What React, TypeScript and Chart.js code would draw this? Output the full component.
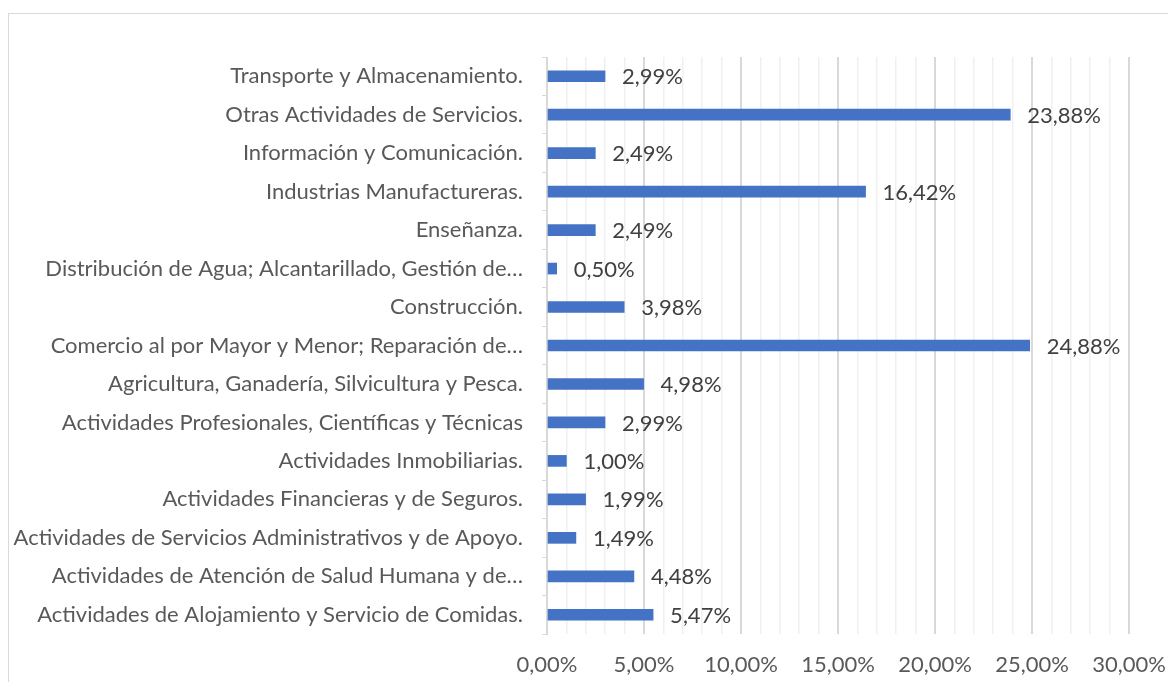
import React, { useEffect, useRef } from "react";
import { Chart, registerables } from "chart.js";

Chart.register(...registerables);

const categories: string[] = [
  "Transporte y Almacenamiento.",
  "Otras Actividades de Servicios.",
  "Información y Comunicación.",
  "Industrias Manufactureras.",
  "Enseñanza.",
  "Distribución de Agua; Alcantarillado, Gestión de…",
  "Construcción.",
  "Comercio al por Mayor y Menor; Reparación de…",
  "Agricultura, Ganadería, Silvicultura y Pesca.",
  "Actividades Profesionales, Científicas y Técnicas",
  "Actividades Inmobiliarias.",
  "Actividades Financieras y de Seguros.",
  "Actividades de Servicios Administrativos y de Apoyo.",
  "Actividades de Atención de Salud Humana y de…",
  "Actividades de Alojamiento y Servicio de Comidas.",
];

const values: number[] = [
  2.99, 23.88, 2.49, 16.42, 2.49, 0.5, 3.98, 24.88, 4.98, 2.99, 1.0, 1.99, 1.49, 4.48, 5.47,
];

const xMin = 0;
const xMax = 30;
const majorStep = 5;

const FONT = "Lato, 'Open Sans', sans-serif";
const FONT_SIZE = 22;
const fmt = (v: number) => v.toFixed(2).replace(".", ",") + "%";

export default function App() {
  const ref = useRef<HTMLCanvasElement | null>(null);

  useEffect(() => {
    if (!ref.current) return;
    const bgPlugin = {
      id: "bgBorder",
      beforeDraw(chart: any) {
        const c = chart.ctx;
        c.save();
        c.fillStyle = "#ffffff";
        c.fillRect(0, 0, chart.width, chart.height);
        c.strokeStyle = "#d9d9d9";
        c.lineWidth = 1;
        c.strokeRect(8.5, 13.5, 1300, 800);
        c.restore();
      },
    };
    const labelPlugin = {
      id: "valueLabels",
      afterDatasetsDraw(chart: any) {
        const c = chart.ctx;
        const meta = chart.getDatasetMeta(0);
        c.save();
        c.font = `${FONT_SIZE}px ${FONT}`;
        c.fillStyle = "#404040";
        c.textAlign = "left";
        c.textBaseline = "middle";
        meta.data.forEach((bar: any, i: number) => {
          c.fillText(fmt(values[i]), bar.x + 17, bar.y + 1);
        });
        c.restore();
      },
    };

    const chart = new Chart(ref.current, {
      type: "bar",
      data: {
        labels: categories,
        datasets: [
          {
            data: values,
            backgroundColor: "#4472c4",
            borderWidth: 0,
            barThickness: 11,
          },
        ],
      },
      options: {
        indexAxis: "y",
        animation: false,
        responsive: false,
        maintainAspectRatio: false,
        layout: { padding: { top: 57, right: 39, left: 0, bottom: 0 } },
        plugins: { legend: { display: false }, tooltip: { enabled: false } },
        scales: {
          x: {
            min: xMin,
            max: xMax,
            ticks: {
              stepSize: 1,
              autoSkip: false,
              maxRotation: 0,
              padding: 18,
              color: "#595959",
              font: { family: FONT, size: FONT_SIZE },
              callback: (v: any) => (Number(v) % majorStep === 0 ? fmt(Number(v)) : ""),
            },
            grid: {
              drawTicks: false,
              color: (ctx: any) =>
                ctx.tick && ctx.tick.value % majorStep === 0 ? "#d9d9d9" : "#f0f0f0",
              lineWidth: (ctx: any) => (ctx.tick && ctx.tick.value % majorStep === 0 ? 2 : 1.5),
            },
            border: { display: false },
            afterFit: (scale: any) => {
              scale.height = 48;
              scale.paddingLeft = 0;
              scale.paddingRight = 0;
            },
          },
          y: {
            ticks: {
              autoSkip: false,
              padding: 19,
              color: "#595959",
              font: { family: FONT, size: FONT_SIZE },
            },
            grid: {
              drawOnChartArea: false,
              drawTicks: true,
              tickLength: 5,
              color: "#d9d9d9",
            },
            border: { display: true, color: "#d9d9d9", width: 1 },
            afterFit: (scale: any) => {
              scale.width = 547;
              scale.paddingTop = 0;
              scale.paddingBottom = 0;
            },
          },
        },
      },
      plugins: [bgPlugin, labelPlugin],
    });
    return () => chart.destroy();
  }, []);

  return (
    <div style={{ position: "fixed", left: 0, top: 0, width: 1168, height: 682, background: "#fff" }}>
      <canvas ref={ref} width={1168} height={682} style={{ width: 1168, height: 682, display: "block" }} />
    </div>
  );
}
